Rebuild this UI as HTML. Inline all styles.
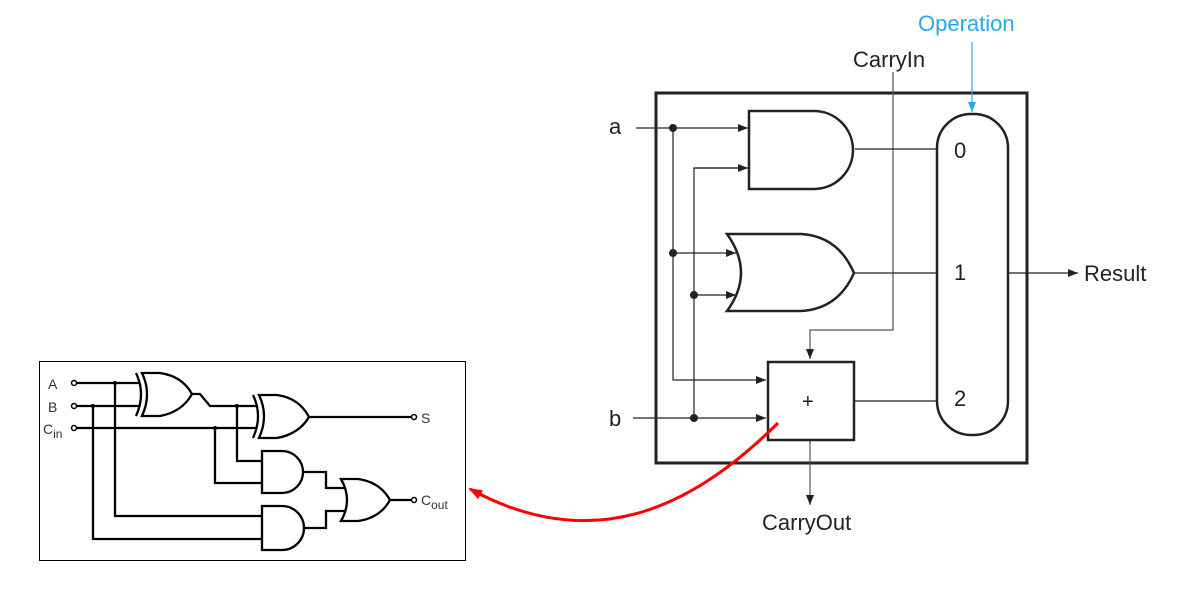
<!DOCTYPE html>
<html><head><meta charset="utf-8"><style>
html,body{margin:0;padding:0;background:#fff;width:1185px;height:593px;overflow:hidden}
svg{display:block}
text{font-family:"Liberation Sans",Arial,sans-serif}
</style></head><body>
<svg width="1185" height="593" viewBox="0 0 1185 593" xmlns="http://www.w3.org/2000/svg">
<defs>
<marker id="ar" markerWidth="10" markerHeight="8" refX="10" refY="4" orient="auto" markerUnits="userSpaceOnUse"><path d="M0,0 L10,4 L0,8 z" fill="#222"/></marker>
<marker id="arb" markerWidth="8" markerHeight="10" refX="4" refY="10" orient="0" markerUnits="userSpaceOnUse"><path d="M0,0 L8,0 L4,10 z" fill="#2aa8e8"/></marker>
<marker id="arr" markerWidth="14" markerHeight="10" refX="12" refY="5" orient="auto" markerUnits="userSpaceOnUse"><path d="M0,0 L14,5 L0,10 z" fill="#f00"/></marker>
</defs>

<!-- Left full adder box -->
<rect x="39.5" y="361.5" width="426" height="199" fill="none" stroke="#000" stroke-width="1"/>
<g stroke="#000" stroke-width="2.3" fill="none">
<line x1="76" y1="383" x2="140" y2="383"/>
<line x1="76" y1="406" x2="140" y2="406"/>
<line x1="76" y1="428" x2="257" y2="428"/>
<path d="M136,373 Q146,394 136,416"/>
<path d="M142,373 H160 Q182,376 192,394 Q182,412 160,416 H142 Q152,394 142,373 Z"/>
<polyline points="192,394 200,394 210,406 257,406"/>
<path d="M253,395 Q263,416 253,438"/>
<path d="M259,395 H277 Q299,398 309,417 Q299,434 277,438 H259 Q269,416 259,395 Z"/>
<line x1="309" y1="417" x2="411" y2="417"/>
<polyline points="237,406 237,461 262,461"/>
<polyline points="215,428 215,483 262,483"/>
<polyline points="115,383 115,516 262,516"/>
<polyline points="93,406 93,539 262,539"/>
<path d="M262,451 H282 A21,21 0 0 1 282,493 H262 Z"/>
<path d="M262,506 H282 A22,22 0 0 1 282,550 H262 Z"/>
<polyline points="303,472 326,472 326,488 346,488"/>
<polyline points="304,528 326,528 326,511 346,511"/>
<path d="M341,479 H358 Q380,482 390,500 Q380,518 358,521 H341 Q353,500 341,479 Z"/>
<line x1="390" y1="500" x2="411" y2="500"/>
<circle cx="74" cy="383" r="2.5" stroke-width="1.5" fill="#fff"/>
<circle cx="74" cy="406" r="2.5" stroke-width="1.5" fill="#fff"/>
<circle cx="74" cy="428" r="2.5" stroke-width="1.5" fill="#fff"/>
<circle cx="414" cy="417" r="2.5" stroke-width="1.5" fill="#fff"/>
<circle cx="414" cy="500" r="2.5" stroke-width="1.5" fill="#fff"/>
</g>
<g fill="#000">
<circle cx="115" cy="383" r="2"/><circle cx="93" cy="406" r="2"/>
<circle cx="237" cy="406" r="2"/><circle cx="215" cy="428" r="2"/>
</g>
<g font-size="14" fill="#333">
<text x="48" y="389">A</text>
<text x="48" y="412">B</text>
<text x="43" y="434">C<tspan font-size="12" dy="4">in</tspan></text>
<text x="421" y="423">S</text>
<text x="421" y="505">C<tspan font-size="12" dy="4">out</tspan></text>
</g>

<!-- Right ALU -->
<rect x="656" y="93" width="371" height="370" fill="none" stroke="#222" stroke-width="3"/>
<g stroke="#222" stroke-width="1.2" fill="none">
<line x1="636" y1="128" x2="748" y2="128" marker-end="url(#ar)"/>
<polyline points="673,128 673,380 766,380" marker-end="url(#ar)"/>
<line x1="673" y1="253" x2="736" y2="253" marker-end="url(#ar)"/>
<polyline points="748,168 694,168 694,418" />
<line x1="694" y1="168" x2="748" y2="168" marker-end="url(#ar)"/>
<line x1="694" y1="295" x2="736" y2="295" marker-end="url(#ar)"/>
<line x1="633" y1="418" x2="766" y2="418" marker-end="url(#ar)"/>
<polyline points="893,72 893,330 810,330 810,359" stroke="#555" marker-end="url(#ar)"/>
<line x1="810" y1="441" x2="810" y2="505" stroke="#555" marker-end="url(#ar)"/>
<line x1="855" y1="149" x2="937" y2="149"/>
<line x1="854" y1="273" x2="937" y2="273"/>
<line x1="855" y1="401" x2="937" y2="401"/>
<line x1="1008" y1="273" x2="1078" y2="273" marker-end="url(#ar)"/>
</g>
<line x1="972" y1="42" x2="972" y2="112" stroke="#2aa8e8" stroke-width="1.2" marker-end="url(#arb)"/>
<g fill="#222"><circle cx="673" cy="128" r="4"/><circle cx="673" cy="253" r="4"/><circle cx="694" cy="295" r="4"/><circle cx="694" cy="418" r="4"/></g>
<g stroke="#222" stroke-width="2.5" fill="#fff">
<path d="M749,111 H814 A39,39 0 0 1 814,189 H749 Z"/>
<path d="M727,234 H801 Q838,236 854,273 Q838,309 801,311 H727 Q755,273 727,234 Z"/>
<rect x="768" y="362" width="86" height="78"/>
<rect x="937" y="114" width="71" height="321" rx="34" ry="34"/>
</g>
<g font-size="22" fill="#222">
<text x="609" y="134">a</text>
<text x="609" y="426">b</text>
<text x="954" y="158">0</text>
<text x="954" y="280">1</text>
<text x="954" y="406">2</text>
<text x="802" y="408" font-size="20">+</text>
<text x="853" y="67">CarryIn</text>
<text x="1084" y="281">Result</text>
<text x="762" y="530">CarryOut</text>
<text x="918" y="31" fill="#2aa8e8">Operation</text>
</g>
<path d="M778,423 C700,500 600,560 470,489" stroke="#f00" stroke-width="3" fill="none" marker-end="url(#arr)"/>
</svg>
</body></html>
